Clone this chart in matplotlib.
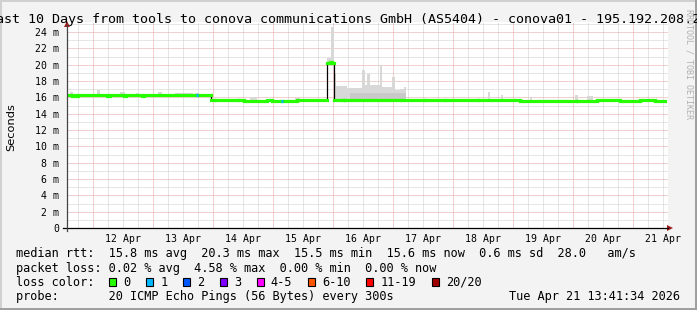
import matplotlib
matplotlib.use('Agg')
import matplotlib.pyplot as plt
import matplotlib.dates as mdates
from matplotlib.patches import Rectangle, Polygon
from matplotlib.lines import Line2D
from datetime import datetime, timedelta

W, H = 697, 310
START = datetime(2026, 4, 11, 13, 41, 34)

# ---------------- data ----------------
# median rtt (ms), step changes at hours after START
median_hours = [0.0, 2.0, 3.2, 3.6, 4.4, 16.0, 17.2, 22.8, 23.6, 30.0, 30.8,
                57.6, 59.2, 68.4, 70.8, 80.0, 82.0, 92.0, 103.8, 105.2, 106.0,
                106.8, 110.4, 111.2, 134.0, 143.2, 151.2, 164.4, 181.2, 204.0,
                212.0, 221.2, 229.2, 235.2, 239.2]
median_ms = [16.3, 16.15, 16.3, 16.15, 16.3, 16.15, 16.3, 16.15, 16.3, 16.15, 16.3,
             15.72, 15.62, 15.68, 15.6, 15.66, 15.6, 15.72, 20.25, 20.35, 20.25,
             15.72, 15.64, 15.72, 15.62, 15.68, 15.62, 15.68, 15.6, 15.52,
             15.62, 15.57, 15.65, 15.6, 15.6]

# samples with 1 lost packet (hours after START)
loss1_hours = [51.6, 85.6]
loss_sample_h = 0.8

# smoke (min..max spread), light shade
smoke_start_h = [1.2, 12.0, 21.2, 27.6, 36.4, 43.2, 51.2, 73.2, 91.2, 103.8,
                 105.6, 106.8, 107.6, 112.0, 114.0, 117.9, 119.2, 120.0, 121.2,
                 125.2, 126.0, 130.0, 131.2, 133.2, 134.8, 168.4, 173.6, 185.2,
                 203.2, 208.0]
smoke_end_h = [2.4, 13.2, 23.2, 28.8, 38.0, 50.4, 52.8, 76.0, 93.2, 105.6,
               106.8, 107.6, 112.0, 114.0, 117.9, 119.2, 120.0, 121.2, 125.2,
               126.0, 130.0, 131.2, 133.2, 134.8, 135.6, 169.2, 174.4, 186.0,
               204.4, 210.4]
smoke_low_ms = [16.1, 16.1, 16.1, 16.1, 16.1, 16.1, 16.1, 15.5, 15.5, 20.0,
                20.2, 15.6, 15.6, 15.6, 15.6, 15.6, 15.6, 15.6, 15.6,
                15.6, 15.6, 15.6, 15.6, 15.6, 15.6, 15.5, 15.5, 15.5,
                15.5, 15.5]
smoke_high_ms = [16.6, 16.9, 16.7, 16.5, 16.6, 16.55, 16.5, 16.05, 15.95, 20.8,
                 24.6, 19.0, 17.4, 17.1, 17.2, 19.4, 17.5, 18.8, 17.5,
                 20.0, 17.3, 18.5, 16.9, 17.0, 17.3, 16.6, 16.3, 16.1,
                 16.3, 16.2]
# denser inner smoke
dark_start_h = [113.0]
dark_end_h = [135.6]
dark_low_ms = [15.6]
dark_high_ms = [16.5]

y_ticks = [0, 2, 4, 6, 8, 10, 12, 14, 16, 18, 20, 22, 24]
day_labels = ['12 Apr', '13 Apr', '14 Apr', '15 Apr', '16 Apr', '17 Apr',
              '18 Apr', '19 Apr', '20 Apr', '21 Apr']

loss_labels = ['0', '1', '2', '3', '4-5', '6-10', '11-19', '20/20']
loss_colors = ['#26ff00', '#00b8ff', '#0059ff', '#7e00ff', '#ff00ff',
               '#ff5500', '#ff0000', '#a10000']

title = 'Last 10 Days from tools to conova communications GmbH (AS5404) - conova01 - 195.192.208.20'
line_rtt = 'median rtt:  15.8 ms avg  20.3 ms max  15.5 ms min  15.6 ms now  0.6 ms sd  28.0   am/s'
line_loss = 'packet loss: 0.02 % avg  4.58 % max  0.00 % min  0.00 % now'
line_probe = 'probe:       20 ICMP Echo Pings (56 Bytes) every 300s'
stamp = 'Tue Apr 21 13:41:34 2026'

# ---------------- helpers ----------------
def fx(px):
    return px / W

def fy(py):
    return 1 - py / H

def t(h):
    return mdates.date2num(START + timedelta(hours=h))

MONO = 'DejaVu Sans Mono'
BG = '#f3f3f3'

fig = plt.figure(figsize=(W / 100, H / 100), dpi=100, facecolor=BG)

# frame shading
fig.add_artist(Rectangle((0, fy(2)), 1, fy(0) - fy(2), transform=fig.transFigure, color='#d0d0d0', lw=0))
fig.add_artist(Rectangle((0, 0), fx(2), 1, transform=fig.transFigure, color='#d0d0d0', lw=0))
fig.add_artist(Rectangle((0, 0), 1, 2 / H, transform=fig.transFigure, color='#9f9f9f', lw=0))
fig.add_artist(Rectangle((fx(695), 0), fx(2), 1, transform=fig.transFigure, color='#9f9f9f', lw=0))

# plot area: x 67..668, y 22..228
PX_PER_MS = 196 / 24.0
ax = fig.add_axes([fx(67), fy(228), fx(601), (228 - 22) / H])
ax.set_facecolor('white')
for s in ax.spines.values():
    s.set_visible(False)
ax.set_ylim(0, 206 / PX_PER_MS)
ax.set_xlim(t(0), t(240.4))

# grid
dots = (0, (1, 1))
for ym in range(1, 26):
    if ym % 2 == 0:
        ax.axhline(ym, color='#e8a3a3', lw=0.72, ls=dots, zorder=0.5)
    else:
        ax.axhline(ym, color='#cfcfcf', lw=0.72, ls=dots, zorder=0.4)
g = datetime(2026, 4, 11, 18, 0)
while g < START + timedelta(hours=240.4):
    if g.hour == 0:
        ax.axvline(mdates.date2num(g), color='#e8a3a3', lw=0.72, ls=dots, zorder=0.5)
    else:
        ax.axvline(mdates.date2num(g), color='#cfcfcf', lw=0.72, ls=dots, zorder=0.4)
    g += timedelta(hours=6)

# smoke
for s0, s1, lo, hi in zip(smoke_start_h, smoke_end_h, smoke_low_ms, smoke_high_ms):
    ax.bar(t(s0), hi - lo, bottom=lo, width=t(s1) - t(s0), align='edge',
           color='#d8d8d8', lw=0, zorder=1)
for s0, s1, lo, hi in zip(dark_start_h, dark_end_h, dark_low_ms, dark_high_ms):
    ax.bar(t(s0), hi - lo, bottom=lo, width=t(s1) - t(s0), align='edge',
           color='#c9c9c9', lw=0, zorder=1.1)

# median line
xs = [t(h) for h in median_hours]
ax.step(xs, median_ms, where='post', color='black', lw=0.9, zorder=2)
for i in range(len(median_hours) - 1):
    ax.hlines(median_ms[i], xs[i], xs[i + 1], color=loss_colors[0], lw=2.3,
              zorder=3, capstyle='projecting')
for lh in loss1_hours:
    k = max(i for i in range(len(median_hours)) if median_hours[i] <= lh)
    ax.hlines(median_ms[k], t(lh), t(lh + loss_sample_h), color=loss_colors[1],
              lw=2.3, zorder=3.5, capstyle='butt')

# ticks
ax.set_yticks(y_ticks)
ax.set_yticklabels(['0' if v == 0 else f'{v} m' for v in y_ticks])
ax.set_xticks([mdates.date2num(datetime(2026, 4, 12 + i, 12)) for i in range(len(day_labels))])
ax.set_xticklabels(day_labels)
ax.tick_params(axis='both', length=0, labelsize=7.1, colors='#000000')
ax.tick_params(axis='y', pad=5.5)
ax.tick_params(axis='x', pad=4.5)
for lab in ax.get_xticklabels() + ax.get_yticklabels():
    lab.set_fontfamily(MONO)

# axes lines and arrows
fig.add_artist(Line2D([fx(63), fx(668)], [fy(228), fy(228)], transform=fig.transFigure, color='black', lw=0.9))
fig.add_artist(Line2D([fx(67), fx(67)], [fy(231), fy(25)], transform=fig.transFigure, color='#444444', lw=0.9))
fig.add_artist(Polygon([[fx(667), fy(225)], [fx(673), fy(228)], [fx(667), fy(231)]],
                       closed=True, transform=fig.transFigure, color='#9e1c1c', lw=0))
fig.add_artist(Polygon([[fx(64), fy(27)], [fx(67), fy(21)], [fx(70), fy(27)]],
                       closed=True, transform=fig.transFigure, color='#9e1c1c', lw=0))

# texts
fig.text(fx(348.5), fy(19), title, family=MONO, fontsize=9.6, ha='center', va='center')
fig.text(fx(11), fy(127), 'Seconds', fontsize=8.2, rotation=90, ha='center', va='center')
fig.text(fx(689), fy(64), 'RRDTOOL / TOBI OETIKER', family=MONO, fontsize=6.0,
         rotation=270, ha='center', va='center', color='#b0b0b0')

FS = 8.53
fig.text(fx(16), fy(254), line_rtt, family=MONO, fontsize=FS, ha='left', va='center')
fig.text(fx(16), fy(268.3), line_loss, family=MONO, fontsize=FS, ha='left', va='center')
fig.text(fx(16), fy(282.3), 'loss color:', family=MONO, fontsize=FS, ha='left', va='center')
fig.text(fx(16), fy(296.7), line_probe, family=MONO, fontsize=FS, ha='left', va='center')
fig.text(fx(680), fy(296.7), stamp, family=MONO, fontsize=FS, ha='right', va='center')

bx = 109.3
for lab, col in zip(loss_labels, loss_colors):
    fig.add_artist(Rectangle((fx(bx), fy(285.5)), fx(7), 8 / H, transform=fig.transFigure,
                             facecolor=col, edgecolor='black', lw=0.8))
    fig.text(fx(bx + 14), fy(282.3), lab, family=MONO, fontsize=FS, ha='left', va='center')
    bx += 36.9 + (len(lab) - 1) * 7.13

fig.savefig('out.png', dpi=100, facecolor=BG)
